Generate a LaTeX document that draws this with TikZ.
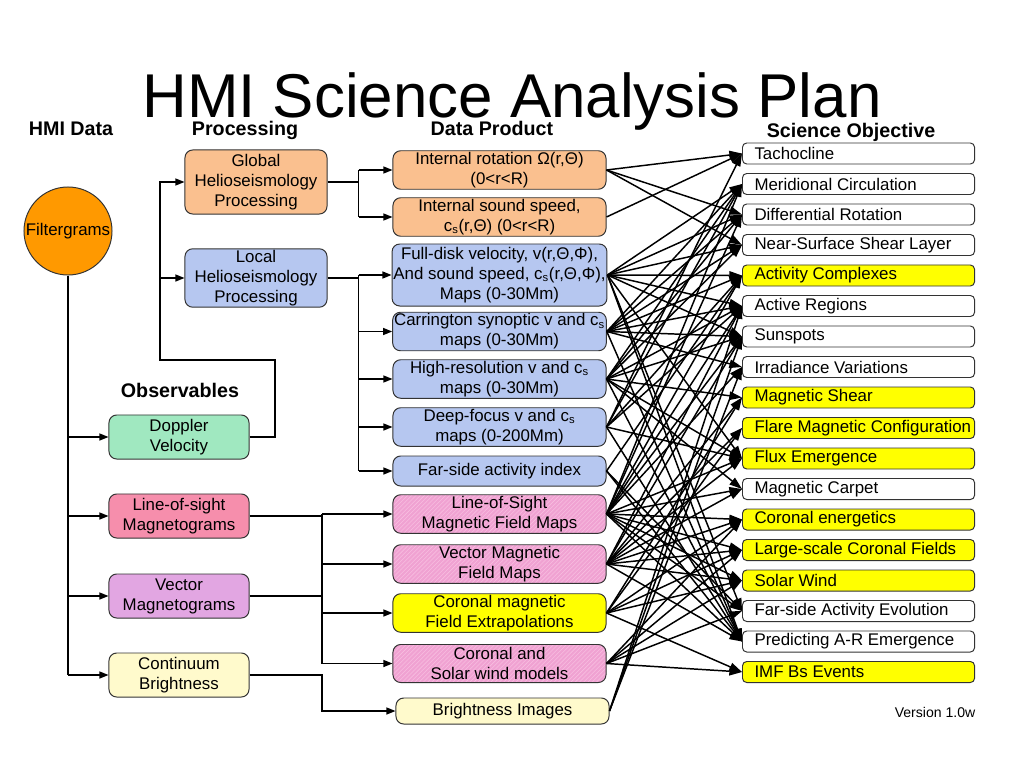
\documentclass[tikz,border=0pt]{standalone}
\usepackage{fontspec}
\setmainfont{Liberation Sans}
\usetikzlibrary{arrows.meta,patterns}

\definecolor{globorange}{RGB}{250,192,143}
\definecolor{locblue}{RGB}{182,199,240}
\definecolor{dopgreen}{RGB}{160,232,192}
\definecolor{lospink}{RGB}{246,142,172}
\definecolor{veclilac}{RGB}{226,166,226}
\definecolor{contyellow}{RGB}{255,250,204}
\definecolor{hatchpink}{RGB}{240,162,210}
\definecolor{hatchlight}{RGB}{248,190,224}
\definecolor{filtorange}{RGB}{255,153,0}
\definecolor{objyellow}{RGB}{255,255,0}

\def\px{0.025cm}
\def\objstep{30.5}

\tikzset{
  box/.style={draw=black!80, rounded corners=5.5pt, align=center, inner sep=1pt,
    font=\fontsize{12}{14.2}\selectfont, line width=0.7pt},
  prod/.style={box, minimum width=5.325cm, minimum height=0.95cm},
  orangebox/.style={fill=globorange},
  bluebox/.style={fill=locblue},
  yellowbox/.style={fill=objyellow},
  pinkhatch/.style={preaction={fill=hatchpink}, pattern=north east lines, pattern color=hatchlight},
  obj/.style={draw=black!80, rounded corners=3pt, anchor=west, minimum height=0.525cm,
    inner xsep=0.3cm, inner ysep=0pt, font=\fontsize{12}{14}\selectfont, line width=0.7pt},
  bus/.style={line width=1pt},
  arr/.style={bus, -{Triangle[length=6.5pt,width=5pt]}},
  link/.style={line width=1.05pt, -{Triangle[length=9pt,width=6pt]}},
  head/.style={font=\fontsize{14}{16}\selectfont\bfseries, anchor=base}
}

\begin{document}
\begin{tikzpicture}[x=\px, y=-\px]
\useasboundingbox (0,0) rectangle (1024,768);

% titles
\node[anchor=base, font=\fontsize{44}{48}\selectfont] (title) at (512,118) {HMI Science Analysis Plan};
\node[head] (hdata) at (71,136) {HMI Data};
\node[head] (hproc) at (245,136) {Processing};
\node[head] (hprod) at (492,136) {Data Product};
\node[head] (hobj) at (851,138) {Science Objective};
\node[head] (hobs) at (180,397) {Observables};
\node[anchor=base, font=\fontsize{10}{12}\selectfont] (ver) at (935,717) {Version 1.0w};

% data and processing
\node[circle, draw=black!80, line width=0.7pt, fill=filtorange, minimum size=2.2cm, inner sep=0pt,
  font=\fontsize{12}{14}\selectfont] (filt) at (68,231) {Filtergrams};
\node[box, orangebox, minimum width=3.55cm, minimum height=1.6cm] (glob) at (256,182)
  {Global\\Helioseismology\\Processing};
\node[box, bluebox, minimum width=3.55cm, minimum height=1.45cm] (loc) at (256,278)
  {Local\\Helioseismology\\Processing};

\foreach \nm/\y/\col/\txt in {dop/437/dopgreen/{Doppler\\Velocity},
    lmag/516/lospink/{Line-of-sight\\Magnetograms},
    vmag/596/veclilac/{Vector\\Magnetograms},
    cont/675/contyellow/{Continuum\\Brightness}}
  \node[box, fill=\col, minimum width=3.5cm, minimum height=1.1cm] (\nm) at (179,\y) {\txt};

% data products
\foreach \nm/\y/\h/\sty/\txt in {
    irot/170/0.95/orangebox/{Internal rotation Ω(r,Θ)\\(0<r<R)},
    isnd/217/0.95/orangebox/{Internal sound speed,\\c\textsubscript{s}(r,Θ) (0<r<R)},
    fdv/275/1.55/bluebox/{Full-disk velocity, v(r,Θ,Φ),\\And sound speed, c\textsubscript{s}(r,Θ,Φ),\\Maps (0-30Mm)},
    car/331.5/0.95/bluebox/{Carrington synoptic v and c\textsubscript{s}\\maps (0-30Mm)},
    hrv/379/0.95/bluebox/{High-resolution v and c\textsubscript{s}\\maps (0-30Mm)},
    dfv/427/0.95/bluebox/{Deep-focus v and c\textsubscript{s}\\maps (0-200Mm)},
    fsai/471/0.75/bluebox/{Far-side activity index},
    losm/514/0.95/pinkhatch/{Line-of-Sight\\Magnetic Field Maps},
    vecm/564/0.95/pinkhatch/{Vector Magnetic\\Field Maps},
    cmfe/613/0.95/yellowbox/{Coronal magnetic\\Field Extrapolations},
    csw/663.5/0.95/pinkhatch/{Coronal and\\Solar wind models}}
  \node[prod, \sty, minimum height=\h cm] (\nm) at (499.5,\y) {\txt};
\node[prod, fill=contyellow, minimum height=0.65cm] (bri) at (502.5,711) {Brightness Images};

% science objectives
\foreach \txt/\col [count=\k] in {Tachocline/white, Meridional Circulation/white,
    Differential Rotation/white, Near-Surface Shear Layer/white, Activity Complexes/objyellow,
    Active Regions/white, Sunspots/white, Irradiance Variations/white, Magnetic Shear/objyellow,
    Flare Magnetic Configuration/objyellow, Flux Emergence/objyellow, Magnetic Carpet/white,
    Coronal energetics/objyellow, Large-scale Coronal Fields/objyellow, Solar Wind/objyellow,
    Far-side Activity Evolution/white, Predicting A-R Emergence/white, IMF Bs Events/objyellow}
  \node[obj, fill=\col] (o\k) at (742,{153.5+\objstep*(\k-1)}) {\makebox[5.2cm][l]{\txt}};

% filtergrams to observables
\draw[bus] (filt.south) -- (filt.south |- cont);
\foreach \nm in {dop,lmag,vmag,cont}
  \draw[arr] (filt.south |- \nm) -- (\nm.west);

% doppler to processing
\coordinate (dturn) at (275,360);
\coordinate (dleft) at (160,360);
\draw[arr] (dop.east) -| (dturn) -- (dleft) |- (glob.west);
\draw[arr] (dleft |- loc) -- (loc.west);

% processing to products
\draw[bus] (glob.east) -- ++(31,0) coordinate (gbus);
\draw[bus] (gbus |- irot) -- (gbus |- isnd);
\foreach \nm in {irot,isnd}
  \draw[arr] (gbus |- \nm) -- (\nm.west);
\draw[bus] (loc.east) -- ++(31,0) coordinate (lbus);
\draw[bus] (lbus |- fdv) -- (lbus |- fsai);
\foreach \nm in {fdv,car,hrv,dfv,fsai}
  \draw[arr] (lbus |- \nm) -- (\nm.west);

% magnetograms and continuum to products
\coordinate (mbus) at (322,500);
\draw[bus] (lmag.east) -- (mbus |- lmag);
\draw[line width=1.6pt] (vmag.east) -- (mbus |- vmag);
\draw[bus] (mbus |- losm) -- (mbus |- csw);
\foreach \nm in {losm,vecm,cmfe,csw}
  \draw[arr] (mbus |- \nm) -- (\nm.west);
\draw[arr] (cont.east) -- (mbus |- cont) |- (bri.west);

% products to objectives
\foreach \src/\dst in {irot/1, irot/3, irot/4, isnd/1,
    fdv/2, fdv/3, fdv/4, fdv/5, fdv/6, fdv/7, fdv/11, fdv/16, fdv/17,
    car/2, car/3, car/4, car/5, car/6, car/7, car/8, car/17,
    hrv/2, hrv/3, hrv/4, hrv/6, hrv/7, hrv/9, hrv/11, hrv/12, hrv/17,
    dfv/1, dfv/2, dfv/5, dfv/6, dfv/11, dfv/17,
    fsai/5, fsai/16, fsai/17,
    losm/2, losm/3, losm/5, losm/6, losm/7, losm/8, losm/11, losm/12, losm/13, losm/14, losm/15, losm/16, losm/17,
    vecm/6, vecm/7, vecm/9, vecm/10, vecm/11, vecm/12, vecm/13, vecm/14, vecm/15, vecm/17,
    cmfe/9, cmfe/10, cmfe/13, cmfe/14, cmfe/15, cmfe/18,
    csw/13, csw/14, csw/15, csw/16, csw/18,
    bri/6, bri/7, bri/8}
  \draw[link] (\src.east) -- (o\dst.west);

\end{tikzpicture}
\end{document}
